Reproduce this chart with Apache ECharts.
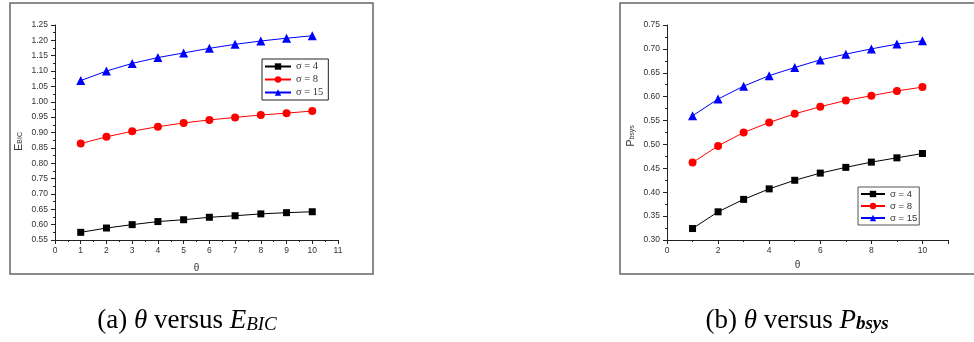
<!DOCTYPE html>
<html>
<head>
<meta charset="utf-8">
<script src="https://cdn.jsdelivr.net/npm/echarts@6/dist/echarts.min.js"></script>
<style>
  html, body { margin: 0; padding: 0; background: #fff; }
  #main { width: 974px; height: 342px; }
</style>
</head>
<body>
<div id="main"></div>
<script>
// theta values on the x axis (both panels)
var theta = [1, 2, 3, 4, 5, 6, 7, 8, 9, 10];
var seriesNames = ['σ = 4', 'σ = 8', 'σ = 15'];

// (a) E_BIC
var ebicS4  = [0.575, 0.589, 0.600, 0.610, 0.616, 0.624, 0.629, 0.635, 0.639, 0.642];
var ebicS8  = [0.864, 0.886, 0.904, 0.919, 0.931, 0.941, 0.949, 0.957, 0.963, 0.970];
var ebicS15 = [1.069, 1.100, 1.125, 1.144, 1.159, 1.174, 1.187, 1.198, 1.207, 1.215];

// (b) P_bsys
var pbS4  = [0.324, 0.359, 0.385, 0.407, 0.425, 0.440, 0.452, 0.463, 0.472, 0.481];
var pbS8  = [0.462, 0.497, 0.525, 0.546, 0.564, 0.579, 0.592, 0.602, 0.612, 0.620];
var pbS15 = [0.560, 0.595, 0.622, 0.644, 0.661, 0.677, 0.689, 0.700, 0.710, 0.717];

var colors = ['#000000', '#ff0000', '#0000ff'];
var symbols = ['rect', 'circle', 'triangle'];
var symSizes = [7, 8, 9];

function pairs(ys) {
    var out = [];
    for (var i = 0; i < theta.length; i++) {
        out.push([theta[i], ys[i]]);
    }
    return out;
}

function mkSeries(idx, k, ys) {
    return {
        name: seriesNames[k],
        type: 'line',
        xAxisIndex: idx,
        yAxisIndex: idx,
        data: pairs(ys),
        symbol: symbols[k],
        symbolSize: symSizes[k],
        showAllSymbol: true,
        lineStyle: { color: colors[k], width: 1 },
        itemStyle: { color: colors[k] },
        animation: false
    };
}

var axisCommon = {
    axisLine: { show: true, lineStyle: { color: '#222', width: 1 } },
    axisTick: { show: true, inside: false, length: 4, lineStyle: { color: '#222' } },
    minorTick: { show: true, splitNumber: 2, length: 2, lineStyle: { color: '#222' } },
    splitLine: { show: false },
    axisLabel: { color: '#333', fontSize: 8.5, fontFamily: 'Liberation Sans, Arial' }
};

function xAx(gi, interval, showMax, nameGap, namePad) {
    return Object.assign({}, axisCommon, {
        type: 'value', gridIndex: gi, min: 0, max: 11, interval: interval,
        name: 'θ', nameLocation: 'middle', nameGap: nameGap,
        nameTextStyle: { color: '#333', fontSize: 10, fontFamily: 'Liberation Sans, Arial', padding: namePad },
        axisLabel: Object.assign({}, axisCommon.axisLabel, { margin: 6, showMaxLabel: showMax })
    });
}

function yAx(gi, min, max, nameMain, nameSub, namePad) {
    return Object.assign({}, axisCommon, {
        type: 'value', gridIndex: gi, min: min, max: max, interval: 0.05,
        name: '{a|' + nameMain + '}{b|' + nameSub + '}',
        nameLocation: 'middle', nameGap: 31,
        nameTextStyle: {
            padding: namePad,
            rich: {
                a: { fontSize: 11, lineHeight: 16, verticalAlign: 'bottom', color: '#333', fontFamily: 'Liberation Sans, Arial' },
                b: { fontSize: 7, lineHeight: 8, verticalAlign: 'bottom', color: '#333', fontFamily: 'Liberation Sans, Arial' }
            }
        },
        axisLabel: Object.assign({}, axisCommon.axisLabel, {
            margin: 7,
            formatter: function (v) { return v.toFixed(2); }
        })
    });
}

var capRich = {
    n: { fontSize: 27, fontFamily: 'Liberation Serif, serif', color: '#222', lineHeight: 32, verticalAlign: 'bottom' },
    i: { fontSize: 27, fontStyle: 'italic', fontFamily: 'Liberation Serif, serif', color: '#222', lineHeight: 32, verticalAlign: 'bottom' },
    s: { fontSize: 19, fontStyle: 'italic', fontFamily: 'Liberation Serif, serif', color: '#222', lineHeight: 20, verticalAlign: 'bottom' },
    sb: { fontSize: 19, fontStyle: 'italic', fontWeight: 'bold', fontFamily: 'Liberation Serif, serif', color: '#222', lineHeight: 20, verticalAlign: 'bottom' }
};

var myChart = echarts.init(document.getElementById('main'), null, { renderer: 'canvas' });

var option = {
    backgroundColor: '#ffffff',
    animation: false,
    grid: [
        { left: 55, top: 25, width: 283, height: 215 },
        { left: 667, top: 25, width: 281, height: 215 }
    ],
    xAxis: [
        xAx(0, 1, true, 23, [0, 0, 0, 0]),
        xAx(1, 2, false, 14, [0, 20, 0, 0])
    ],
    yAxis: [
        yAx(0, 0.55, 1.25, 'E', 'BIC', [0, 18, 0, 0]),
        yAx(1, 0.30, 0.75, 'P', 'bsys', [0, 7, 0, 0])
    ],
    legend: [
        {
            seriesIndex: [0, 1, 2],
            data: seriesNames,
            orient: 'vertical',
            left: 262, top: 59,
            itemWidth: 26, itemHeight: 8, itemGap: 2,
            padding: [2, 5, 2, 2],
            borderColor: '#222', borderWidth: 1,
            textStyle: { fontSize: 10.5, fontFamily: 'Liberation Serif, serif', color: '#333' },
            selectedMode: false
        },
        {
            data: seriesNames,
            orient: 'vertical',
            left: 858, top: 187,
            itemWidth: 24, itemHeight: 8, itemGap: 2,
            padding: [2, 2, 2, 2],
            borderColor: '#555', borderWidth: 1,
            textStyle: { fontSize: 9.5, fontFamily: 'Liberation Sans, Arial', color: '#333' },
            selectedMode: false
        }
    ],
    graphic: [
        { type: 'rect', shape: { x: 10, y: 3, width: 363, height: 271 }, style: { fill: 'none', stroke: '#666', lineWidth: 1.5 }, silent: true },
        { type: 'rect', shape: { x: 620, y: 3, width: 370, height: 271 }, style: { fill: 'none', stroke: '#666', lineWidth: 1.5 }, silent: true },
        {
            type: 'text', style: {
                x: 187, y: 318, align: 'center', verticalAlign: 'middle',
                text: '{n|(a) }{i|θ}{n| versus }{i|E}{s|BIC}', rich: capRich
            }, silent: true
        },
        {
            type: 'text', style: {
                x: 797, y: 318, align: 'center', verticalAlign: 'middle',
                text: '{n|(b) }{i|θ}{n| versus }{i|P}{sb|bsys}', rich: capRich
            }, silent: true
        }
    ],
    series: [
        mkSeries(0, 0, ebicS4),
        mkSeries(0, 1, ebicS8),
        mkSeries(0, 2, ebicS15),
        mkSeries(1, 0, pbS4),
        mkSeries(1, 1, pbS8),
        mkSeries(1, 2, pbS15)
    ]
};

if (option)
    myChart.setOption(option);
</script>
</body>
</html>
